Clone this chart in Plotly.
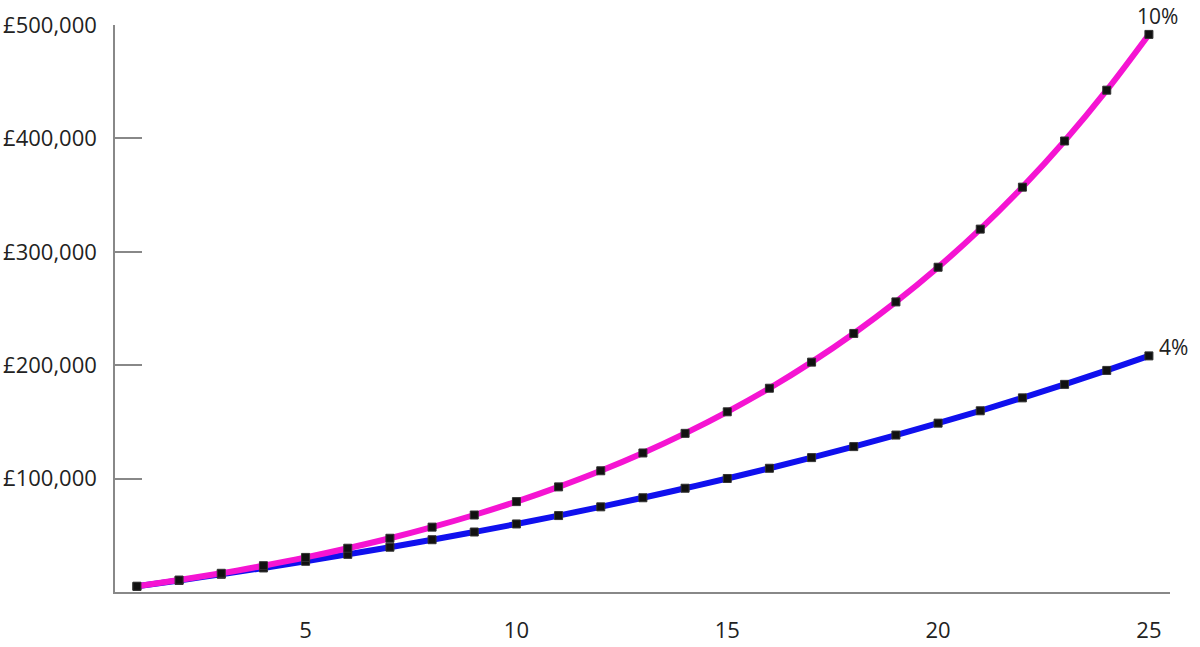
import plotly.graph_objects as go

years = list(range(1, 26))
rate_10 = [5000, 10500, 16500, 23200, 30500, 38600, 47400, 57200, 67900, 79700,
           92700, 106900, 122600, 139900, 158900, 179700, 202700, 228000, 255800, 286400,
           320000, 357000, 397700, 442500, 491700]
rate_4 = [5000, 10200, 15600, 21200, 27100, 33200, 39500, 46100, 52900, 60000,
          67400, 75100, 83100, 91500, 100100, 109100, 118500, 128200, 138400, 148900,
          159800, 171200, 183100, 195400, 208200]
y_ticks = [100000, 200000, 300000, 400000, 500000]
y_labels = ["£100,000", "£200,000", "£300,000", "£400,000", "£500,000"]
x_ticks = [5, 10, 15, 20, 25]
series_labels = ["4%", "10%"]

FONT = "Open Sans, Lato, sans-serif"

fig = go.Figure()
fig.add_trace(go.Scatter(
    x=years, y=rate_4, mode="lines+markers", line=dict(color="#1010ee", width=6, shape="spline"),
    marker=dict(symbol="square", size=8, color="#111111", line=dict(color="#333333", width=1)),
    cliponaxis=False, showlegend=False, hoverinfo="skip"))
fig.add_trace(go.Scatter(
    x=years, y=rate_10, mode="lines+markers", line=dict(color="#f514d2", width=6, shape="spline"),
    marker=dict(symbol="square", size=8, color="#111111", line=dict(color="#333333", width=1)),
    cliponaxis=False, showlegend=False, hoverinfo="skip"))

fig.add_annotation(x=years[-1], y=rate_4[-1], text=series_labels[0], showarrow=False,
                   xanchor="left", yanchor="middle", xshift=8, yshift=9,
                   font=dict(family=FONT, size=21, color="#222222"))
fig.add_annotation(x=years[-1], y=rate_10[-1], text=series_labels[1], showarrow=False,
                   xanchor="center", yanchor="middle", xshift=9, yshift=18,
                   font=dict(family=FONT, size=21, color="#222222"))

fig.update_layout(
    width=1200, height=647,
    margin=dict(l=115, r=30, t=25, b=55),
    paper_bgcolor="white", plot_bgcolor="white",
    font=dict(family=FONT, size=22, color="#222222"),
)
fig.update_xaxes(range=[0.48, 25.5], tickvals=x_ticks, showgrid=False, zeroline=False,
                 showline=True, linecolor="#888888", linewidth=1.5, automargin=False,
                 ticks="", ticklabelstandoff=18)
fig.update_yaxes(range=[0, 500000], tickvals=y_ticks, ticktext=y_labels, showgrid=False,
                 zeroline=False, showline=True, linecolor="#888888", linewidth=1.5,
                 automargin=False,
                 ticks="inside", ticklen=27, tickcolor="#888888", tickwidth=1.5,
                 ticklabelstandoff=12)

fig.write_html("out.html", config={"displayModeBar": False},
               post_script="document.body.style.margin='0';")
